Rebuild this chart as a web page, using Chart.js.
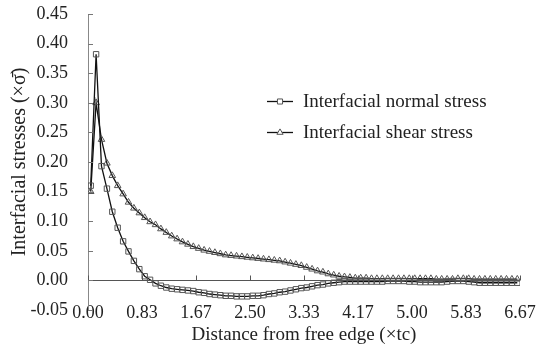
<!DOCTYPE html>
<html>
<head>
<meta charset="utf-8">
<script src="https://cdn.jsdelivr.net/npm/chart.js@4/dist/chart.umd.min.js"></script>
<style>
  html, body { margin: 0; padding: 0; background: #fff; }
  #wrap { position: relative; width: 541px; height: 348px; }
  #legend { position: absolute; left: 267px; top: 85px; font: 19px "Liberation Serif", serif; color: #222; }
  #legend .row { height: 31px; display: flex; align-items: center; }
  #legend canvas { margin-right: 10px; }
</style>
</head>
<body>
<div id="wrap">
  <canvas id="chart" width="541" height="348"></canvas>
  <div id="legend">
    <div class="row"><canvas id="lg0" width="26" height="12"></canvas>Interfacial normal stress</div>
    <div class="row"><canvas id="lg1" width="26" height="12"></canvas>Interfacial shear stress</div>
  </div>
</div>
<script>
// =========================
// DATA
// =========================
const distance = [
  0.042, 0.125, 0.208, 0.292, 0.375, 0.458, 0.542, 0.625, 0.708, 0.792,
  0.875, 0.958, 1.042, 1.125, 1.208, 1.292, 1.375, 1.458, 1.542, 1.625,
  1.708, 1.792, 1.875, 1.958, 2.042, 2.125, 2.208, 2.292, 2.375, 2.458,
  2.542, 2.625, 2.708, 2.792, 2.875, 2.958, 3.042, 3.125, 3.208, 3.292,
  3.375, 3.458, 3.542, 3.625, 3.708, 3.792, 3.875, 3.958, 4.042, 4.125,
  4.208, 4.292, 4.375, 4.458, 4.542, 4.625, 4.708, 4.792, 4.875, 4.958,
  5.042, 5.125, 5.208, 5.292, 5.375, 5.458, 5.542, 5.625, 5.708, 5.792,
  5.875, 5.958, 6.042, 6.125, 6.208, 6.292, 6.375, 6.458, 6.542, 6.625
];
const normalStress = [
  0.160, 0.382, 0.193, 0.155, 0.116, 0.089, 0.066, 0.049, 0.033, 0.019,
  0.007, 0.001, -0.005, -0.009, -0.012, -0.014, -0.015, -0.016, -0.017, -0.018,
  -0.020, -0.021, -0.023, -0.024, -0.025, -0.026, -0.026, -0.027, -0.027, -0.027,
  -0.026, -0.026, -0.025, -0.023, -0.022, -0.020, -0.019, -0.017, -0.015, -0.013,
  -0.012, -0.010, -0.008, -0.007, -0.005, -0.004, -0.003, -0.002, -0.002, -0.002,
  -0.002, -0.002, -0.002, -0.002, -0.002, -0.001, -0.001, -0.001, -0.001, -0.002,
  -0.002, -0.003, -0.003, -0.003, -0.003, -0.003, -0.002, -0.001, -0.001, -0.001,
  -0.002, -0.003, -0.004, -0.004, -0.004, -0.004, -0.004, -0.004, -0.004, -0.004
];
const shearStress = [
  0.150, 0.300, 0.238, 0.198, 0.177, 0.160, 0.146, 0.132, 0.122, 0.114,
  0.106, 0.099, 0.094, 0.087, 0.081, 0.075, 0.070, 0.065, 0.061, 0.057,
  0.054, 0.051, 0.049, 0.047, 0.045, 0.043, 0.042, 0.041, 0.040, 0.039,
  0.038, 0.037, 0.036, 0.035, 0.034, 0.033, 0.031, 0.029, 0.027, 0.025,
  0.022, 0.019, 0.016, 0.014, 0.011, 0.009, 0.007, 0.006, 0.005, 0.004,
  0.004, 0.004, 0.003, 0.003, 0.003, 0.003, 0.003, 0.003, 0.003, 0.003,
  0.003, 0.003, 0.003, 0.003, 0.002, 0.002, 0.002, 0.002, 0.003, 0.003,
  0.003, 0.002, 0.002, 0.002, 0.002, 0.002, 0.002, 0.002, 0.002, 0.002
];
const seriesNames = ["Interfacial normal stress", "Interfacial shear stress"];
const xTitle = "Distance from free edge (\u00d7tc)";
const yTitle = "Interfacial stresses (\u00d7\u03c3\u0304)";

const FONT = "'Liberation Serif', 'Times New Roman', serif";

// =========================
// AXIS DECORATION: zero line + tick marks
// =========================
const axisMarks = {
  id: "axisMarks",
  afterDatasetsDraw(chart) {
    const { ctx, scales: { x, y } } = chart;
    const y0 = Math.round(y.getPixelForValue(0)) + 0.5;
    ctx.save();
    ctx.lineWidth = 1;
    ctx.strokeStyle = "#555";
    ctx.beginPath();
    ctx.moveTo(x.left, y0);
    ctx.lineTo(x.right, y0);
    ctx.stroke();
    // x ticks point up from zero line
    x.ticks.forEach(t => {
      const px = Math.round(x.getPixelForValue(t.value)) + 0.5;
      ctx.beginPath();
      ctx.moveTo(px, y0);
      ctx.lineTo(px, y0 - 5);
      ctx.stroke();
    });
    // y ticks point inward
    ctx.strokeStyle = "#777";
    y.ticks.forEach(t => {
      const py = Math.round(y.getPixelForValue(t.value)) + 0.5;
      ctx.beginPath();
      ctx.moveTo(x.left, py);
      ctx.lineTo(x.left + 5, py);
      ctx.stroke();
    });
    ctx.restore();
  }
};

const normalDs = {
  label: seriesNames[0],
  data: distance.map((d, i) => ({ x: d, y: normalStress[i] })),
  borderColor: "#111",
  borderWidth: 1.3,
  pointStyle: "rect",
  pointRadius: 3.8,
  pointBorderColor: "#555",
  pointBackgroundColor: "rgba(255,255,255,0)",
  pointBorderWidth: 1,
  tension: 0
};
const shearDs = {
  label: seriesNames[1],
  data: distance.map((d, i) => ({ x: d, y: shearStress[i] })),
  borderColor: "#111",
  borderWidth: 1.3,
  pointStyle: "triangle",
  pointRadius: 3.8,
  pointBorderColor: "#555",
  pointBackgroundColor: "rgba(255,255,255,0)",
  pointBorderWidth: 1,
  tension: 0
};

new Chart(document.getElementById("chart"), {
  type: "line",
  data: { datasets: [normalDs, shearDs] },
  options: {
    responsive: false,
    animation: false,
    layout: { padding: { top: 14, right: 21, left: 0, bottom: 0 } },
    plugins: { legend: { display: false }, tooltip: { enabled: false } },
    scales: {
      x: {
        type: "linear",
        min: 0,
        max: 20 / 3,
        afterBuildTicks: s => {
          s.ticks = [0, 1, 2, 3, 4, 5, 6, 7, 8].map(k => ({ value: k * 5 / 6 }));
        },
        afterFit: s => { s.height = 38; },
        grid: { display: false, drawTicks: false },
        border: { display: false },
        ticks: {
          mirror: true,   // keeps labels from being clipped to the axis box
          padding: -14,
          maxRotation: 0,
          autoSkip: false,
          color: "#222",
          font: { family: FONT, size: 18 },
          callback: v => v.toFixed(2)
        },
        title: {
          display: true,
          text: xTitle,
          color: "#222",
          font: { family: FONT, size: 19 },
          padding: { top: 0, bottom: 2 }
        }
      },
      y: {
        min: -0.05,
        max: 0.45,
        afterFit: s => { s.width = 88; },
        grid: {
          display: true,
          drawOnChartArea: false,
          drawTicks: true,
          tickLength: 20,
          tickColor: "rgba(0,0,0,0)"
        },
        border: { display: true, color: "#888", width: 1 },
        ticks: {
          stepSize: 0.05,
          padding: 0,
          color: "#222",
          font: { family: FONT, size: 18 },
          callback: v => v.toFixed(2)
        },
        title: {
          display: true,
          text: yTitle,
          color: "#222",
          font: { family: FONT, size: 20 },
          padding: { top: 8, bottom: 0 }
        }
      }
    }
  },
  plugins: [axisMarks]
});

// =========================
// LEGEND SAMPLES
// =========================
[["lg0", "rect"], ["lg1", "triangle"]].forEach(([id, st]) => {
  const c = document.getElementById(id).getContext("2d");
  c.strokeStyle = "#111";
  c.lineWidth = 1.3;
  c.beginPath();
  c.moveTo(0, 6.5);
  c.lineTo(26, 6.5);
  c.stroke();
  c.fillStyle = "#fff";
  c.strokeStyle = "#555";
  c.lineWidth = 1;
  Chart.helpers.drawPoint(c, { pointStyle: st, radius: 3.6, borderWidth: 1 }, 13, 6.5);
});
</script>
</body>
</html>
